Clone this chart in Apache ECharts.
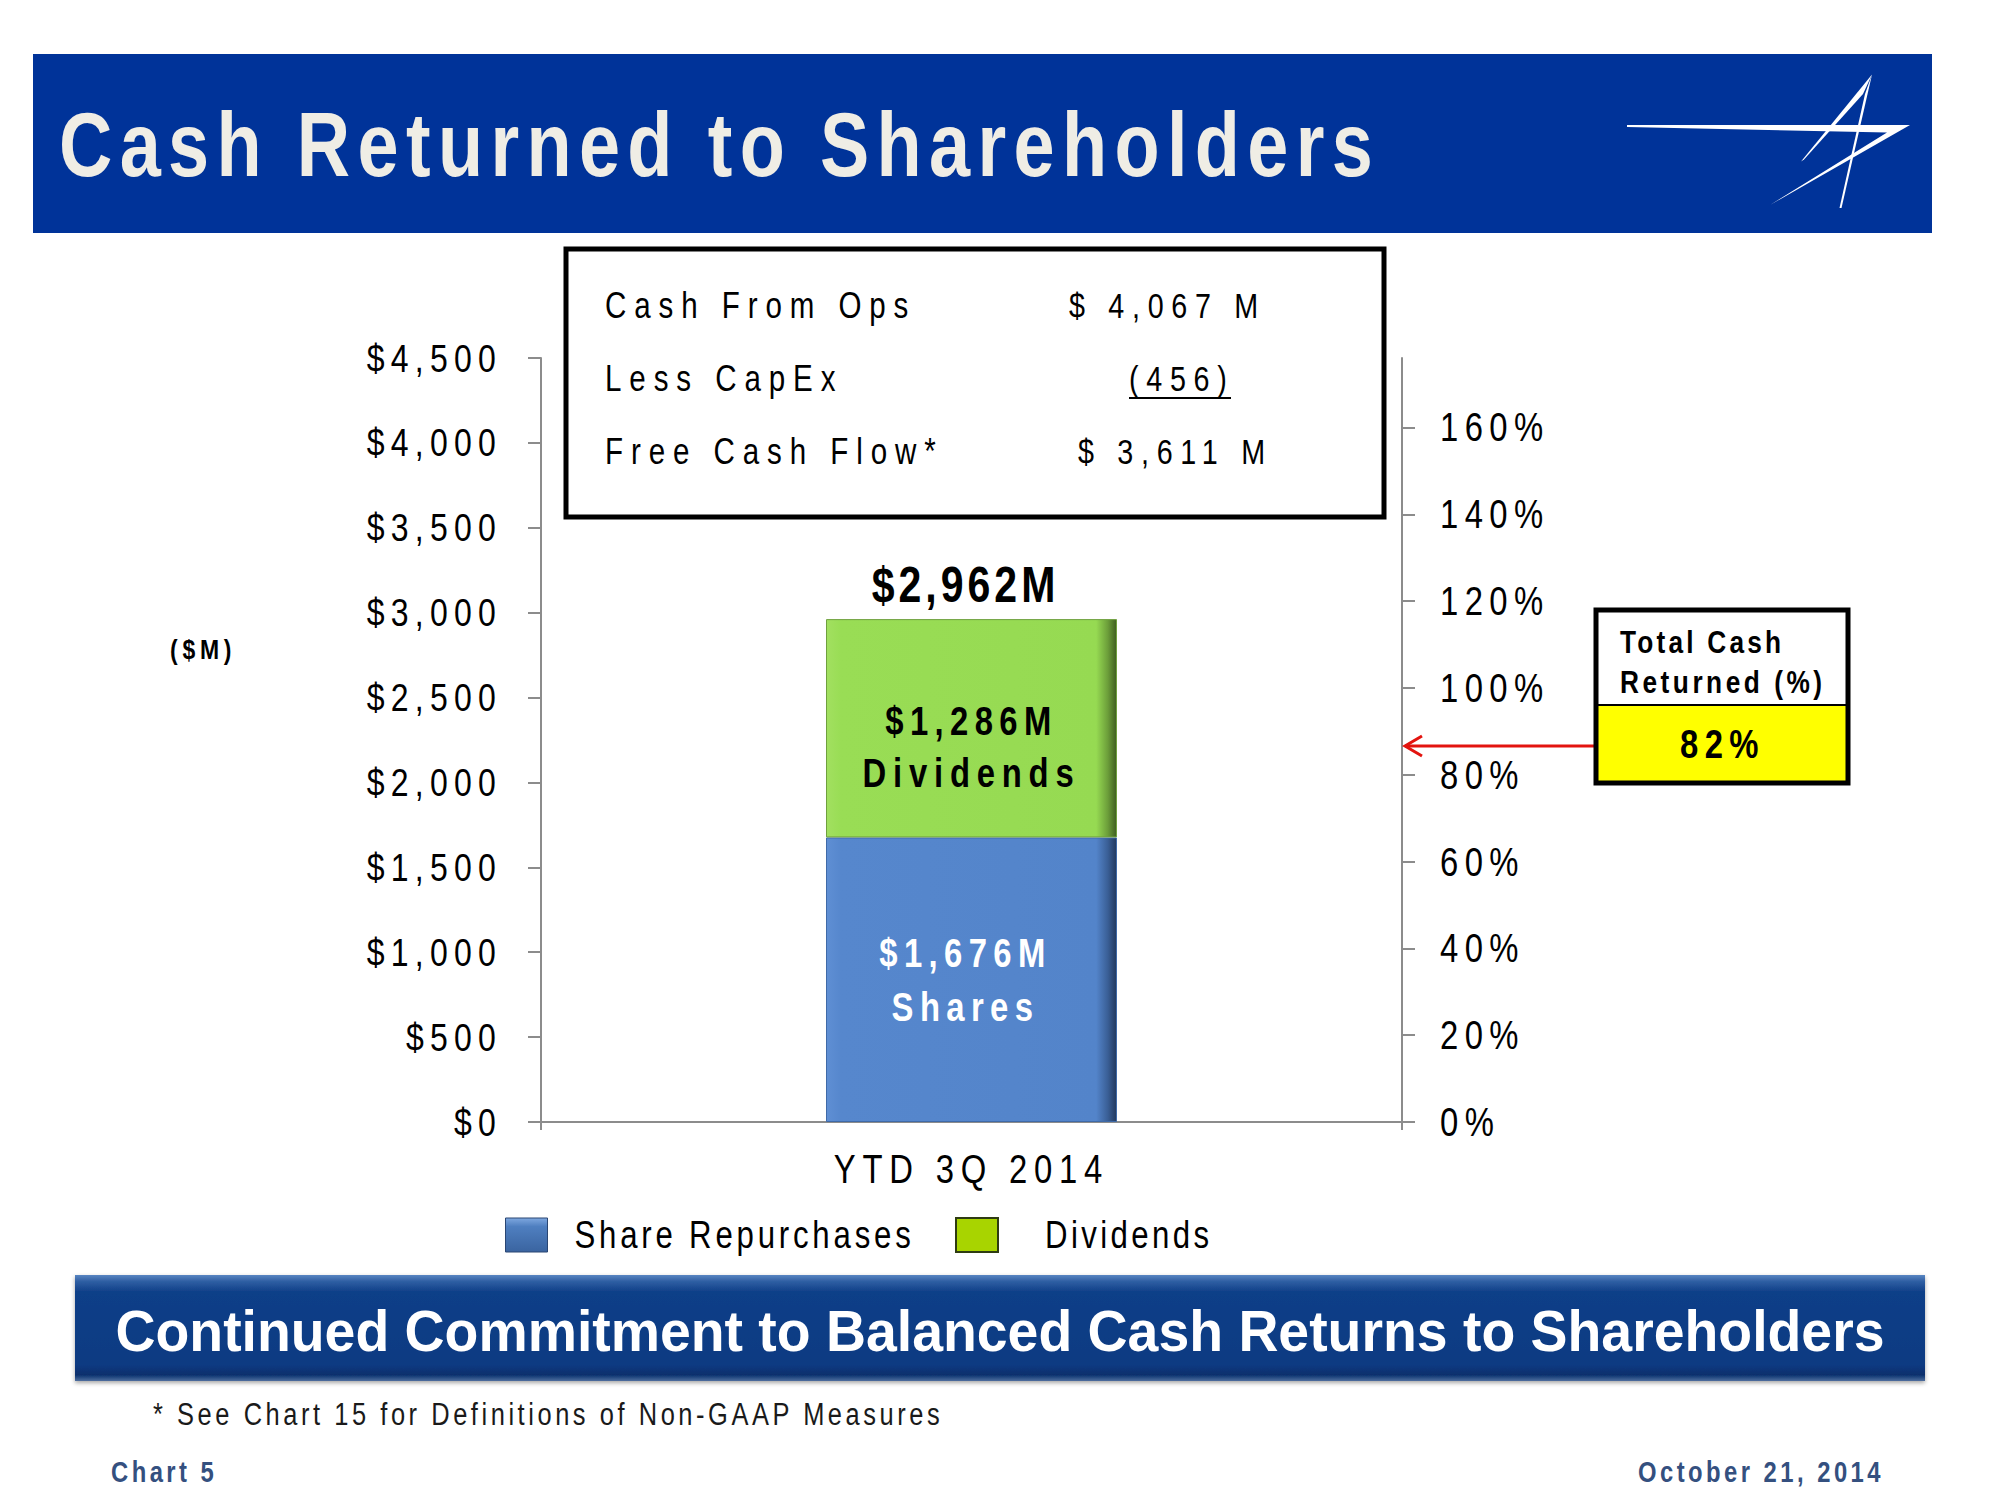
<!DOCTYPE html>
<html>
<head>
<meta charset="utf-8">
<script src="https://cdn.jsdelivr.net/npm/echarts@6/dist/echarts.min.js"></script>
<style>
html,body{margin:0;padding:0;background:#fff;}
#chart{width:2000px;height:1500px;}
</style>
</head>
<body>
<div id="chart"></div>
<script>
// ---------- data ----------
const categories = ['YTD 3Q 2014'];
const seriesNames = ['Share Repurchases', 'Dividends'];
const shareRepurchases = [1676];
const dividends = [1286];
const totals = [2962];
const barCaptions = ['Shares', 'Dividends'];
const leftTickMax = 4500;
const leftTickStep = 500;
const rightTickValues = [0, 20, 40, 60, 80, 100, 120, 140, 160];
const rightAxisMax = 176;
const cashFlowLabels = ['Cash From Ops', 'Less CapEx', 'Free Cash Flow*'];
const cashFlowValues = ['$ 4,067 M', '(456)', '$ 3,611 M'];
const totalCashReturnedPct = [82];
const titleText = 'Cash Returned to Shareholders';
const bannerText = 'Continued Commitment to Balanced Cash Returns to Shareholders';
const footnoteText = '* See Chart 15 for Definitions of Non-GAAP Measures';
const footerLeft = 'Chart 5';
const footerRight = 'October 21, 2014';
const unitLabel = '($M)';

// ---------- styling ----------
const FF = '"Liberation Sans", Arial, sans-serif';
const fmt = v => v.toLocaleString('en-US');
const blueGrad = {type:'linear',x:0,y:0,x2:1,y2:0,colorStops:[
  {offset:0,color:'#5F8FD4'},{offset:0.05,color:'#5687CD'},{offset:0.93,color:'#5384CA'},{offset:0.97,color:'#3A5F96'},{offset:1,color:'#22395E'}]};
const greenGrad = {type:'linear',x:0,y:0,x2:1,y2:0,colorStops:[
  {offset:0,color:'#A2E060'},{offset:0.05,color:'#99DD55'},{offset:0.93,color:'#96DA52'},{offset:0.97,color:'#6C9E3A'},{offset:1,color:'#3F5E20'}]};
const axisGray = '#8C8C8C';

const chart = echarts.init(document.getElementById('chart'), null, {renderer:'svg', width:2000, height:1500});

const graphics = [
  // header band
  {type:'rect', shape:{x:33,y:54,width:1899,height:179}, style:{fill:'#003399'}, z:1},
  {type:'text', x:59, y:145, style:{text:titleText, fill:'#EFEDE5', fontSize:90, fontWeight:'bold', fontFamily:FF, textAlign:'left', textVerticalAlign:'middle'}, z:2},
  // logo
  {type:'polygon', shape:{points:[[1627,125],[1910,125],[1770,205],[1887,132.5],[1627,127]]}, style:{fill:'#FFFFFF'}, z:2},
  {type:'polygon', shape:{points:[[1872,74.5],[1801,161.5],[1804,159.5],[1863,94]]}, style:{fill:'#FFFFFF'}, z:2},
  {type:'polygon', shape:{points:[[1872,74.5],[1841.5,208],[1839.5,208],[1865,94]]}, style:{fill:'#FFFFFF'}, z:2},
  // info box
  {type:'rect', shape:{x:566,y:249,width:818,height:268}, style:{fill:'#fff', stroke:'#000', lineWidth:5}, z:5},
  {type:'text', x:605, y:305, style:{text:cashFlowLabels[0], fontSize:36, fontFamily:FF, fill:'#000', textVerticalAlign:'middle'}, z:6},
  {type:'text', x:605, y:378, style:{text:cashFlowLabels[1], fontSize:36, fontFamily:FF, fill:'#000', textVerticalAlign:'middle'}, z:6},
  {type:'text', x:605, y:451, style:{text:cashFlowLabels[2], fontSize:36, fontFamily:FF, fill:'#000', textVerticalAlign:'middle'}, z:6},
  {type:'text', x:1069, y:305, style:{text:cashFlowValues[0], fontSize:35, fontFamily:FF, fill:'#000', textVerticalAlign:'middle'}, z:6},
  {type:'text', x:1129, y:378, style:{text:cashFlowValues[1], fontSize:35, fontFamily:FF, fill:'#000', textVerticalAlign:'middle'}, z:6},
  {type:'line', shape:{x1:1129,y1:398,x2:1231,y2:398}, style:{stroke:'#000', lineWidth:2}, z:6},
  {type:'text', x:1078, y:451, style:{text:cashFlowValues[2], fontSize:35, fontFamily:FF, fill:'#000', textVerticalAlign:'middle'}, z:6},
  // unit label
  {type:'text', x:170, y:649, style:{text:unitLabel, fontSize:28, fontWeight:'bold', fontFamily:FF, fill:'#000', textVerticalAlign:'middle'}, z:6},
  // total cash returned box
  {type:'rect', shape:{x:1596,y:705,width:252,height:78}, style:{fill:'#FFFF00'}, z:5},
  {type:'line', shape:{x1:1596,y1:705,x2:1848,y2:705}, style:{stroke:'#000', lineWidth:2}, z:6},
  {type:'rect', shape:{x:1596,y:610,width:252,height:173}, style:{fill:'none', stroke:'#000', lineWidth:5}, z:7},
  {type:'text', x:1620, y:642, style:{text:'Total Cash', fontSize:32, fontWeight:'bold', fontFamily:FF, fill:'#000', textVerticalAlign:'middle'}, z:6},
  {type:'text', x:1620, y:682, style:{text:'Returned (%)', fontSize:32, fontWeight:'bold', fontFamily:FF, fill:'#000', textVerticalAlign:'middle'}, z:6},
  {type:'text', x:1680, y:744, style:{text:totalCashReturnedPct[0] + '%', fontSize:40, fontWeight:'bold', fontFamily:FF, fill:'#000', textVerticalAlign:'middle'}, z:6},
  // red arrow
  {type:'line', shape:{x1:1596,y1:746,x2:1405,y2:746}, style:{stroke:'#E3140F', lineWidth:3}, z:6},
  {type:'polyline', shape:{points:[[1422,736],[1405,746],[1422,756]]}, style:{stroke:'#E3140F', lineWidth:3, fill:'none'}, z:6},
  // bottom banner
  {type:'rect', shape:{x:75,y:1275,width:1850,height:106},
   style:{fill:{type:'linear',x:0,y:0,x2:0,y2:1,colorStops:[
     {offset:0,color:'#5A86C2'},{offset:0.06,color:'#2F5FA3'},{offset:0.16,color:'#0F3F88'},{offset:0.85,color:'#0B3A82'},{offset:0.94,color:'#082F6C'},{offset:1,color:'#4E6E9E'}]},
     shadowColor:'rgba(0,0,0,0.35)', shadowBlur:4, shadowOffsetY:2}, z:1},
  {type:'text', x:1000, y:1330, style:{text:bannerText, fontSize:58, fontWeight:'bold', fontFamily:FF, fill:'#FFFFFF', textAlign:'center', textVerticalAlign:'middle'}, z:2},
  // footnote & footer
  {type:'text', x:153, y:1414, style:{text:footnoteText, fontSize:31, fontFamily:FF, fill:'#1A1A1A', textVerticalAlign:'middle'}, z:2},
  {type:'text', x:111, y:1472, style:{text:footerLeft, fontSize:29, fontWeight:'bold', fontFamily:FF, fill:'#34507F', textVerticalAlign:'middle'}, z:2},
  {type:'text', x:1638, y:1472, style:{text:footerRight, fontSize:29, fontWeight:'bold', fontFamily:FF, fill:'#34507F', textVerticalAlign:'middle'}, z:2}
];

const option = {
  backgroundColor:'#FFFFFF',
  animation:false,
  grid:{left:541, right:598, top:358, bottom:378, containLabel:false},
  legend:[
    {left:505, top:1216, padding:0, itemWidth:42, itemHeight:34, icon:'rect',
     data:[{name:seriesNames[0], itemStyle:{color:{type:'linear',x:0,y:0,x2:0,y2:1,colorStops:[{offset:0,color:'#7FA8E0'},{offset:0.25,color:'#4F7FC0'},{offset:1,color:'#3A64A0'}]}, borderColor:'#2A4673', borderWidth:1}}],
     textStyle:{fontSize:38, fontFamily:FF, color:'#000', padding:[0,0,0,22]}},
    {left:955, top:1216, padding:0, itemWidth:42, itemHeight:34, icon:'rect',
     data:[{name:seriesNames[1], itemStyle:{color:'#A8D400', borderColor:'#2E3B12', borderWidth:2}}],
     textStyle:{fontSize:38, fontFamily:FF, color:'#000', padding:[0,0,0,42]}}
  ],
  xAxis:{type:'category', data:categories,
    axisLine:{lineStyle:{color:axisGray, width:2}},
    axisTick:{show:true, length:8, lineStyle:{color:axisGray, width:2}},
    axisLabel:{fontSize:40, fontFamily:FF, color:'#000', margin:27}},
  yAxis:[
    {type:'value', position:'left', min:0, max:leftTickMax, interval:leftTickStep,
     axisLine:{show:true, lineStyle:{color:axisGray, width:2}},
     axisTick:{show:true, length:13, lineStyle:{color:axisGray, width:2}},
     splitLine:{show:false},
     axisLabel:{fontSize:39, fontFamily:FF, color:'#000', margin:39, formatter:v => '$' + fmt(v)}},
    {type:'value', position:'right', min:0, max:rightAxisMax,
     axisLine:{show:true, lineStyle:{color:axisGray, width:2}},
     axisTick:{show:true, length:13, customValues:rightTickValues, lineStyle:{color:axisGray, width:2}},
     splitLine:{show:false},
     axisLabel:{fontSize:40, fontFamily:FF, color:'#000', margin:38, customValues:rightTickValues, formatter:v => v + '%'}}
  ],
  series:[
    {type:'bar', name:seriesNames[0], stack:'total', data:shareRepurchases, barWidth:291,
     itemStyle:{color:blueGrad, borderColor:'#3F6AA8', borderWidth:1},
     label:{show:true, position:'inside', offset:[-6,0], color:'#FFFFFF', fontSize:40, fontWeight:'bold', fontFamily:FF, lineHeight:54,
       formatter:p => '$' + fmt(p.value) + 'M\n' + barCaptions[0]}},
    {type:'bar', name:seriesNames[1], stack:'total', data:dividends, barWidth:291,
     itemStyle:{color:greenGrad, borderColor:'#6FA03E', borderWidth:1},
     label:{show:true, position:'inside', offset:[0,19], color:'#000000', fontSize:40, fontWeight:'bold', fontFamily:FF, lineHeight:52,
       formatter:p => '$' + fmt(p.value) + 'M\n' + barCaptions[1]}},
    {type:'scatter', name:'Total', data:totals, symbolSize:0, itemStyle:{color:'#000000', opacity:1}, silent:true, z:10,
     label:{show:true, position:'top', distance:9, offset:[-6,0], color:'#000000', fontSize:50, fontWeight:'bold', fontFamily:FF,
       formatter:p => '$' + fmt(p.value) + 'M'}}
  ],
  graphic:{elements:graphics}
};
chart.setOption(option);

// Emulate the slide's tracked Arial Narrow: compress glyphs to 82% width and add tracking.
const NARROW = 0.82;
const spacingMap = {};
spacingMap[titleText] = 0.082;
cashFlowLabels.concat(cashFlowValues).forEach(t => spacingMap[t] = 0.22);
spacingMap['$' + fmt(totals[0]) + 'M'] = 0.08;
spacingMap['Total Cash'] = 0.1;
spacingMap['Returned (%)'] = 0.11;
spacingMap[seriesNames[0]] = 0.1;
spacingMap[footnoteText] = 0.115;
spacingMap[footerLeft] = 0.12;
spacingMap[footerRight] = 0.12;
spacingMap[unitLabel] = 0.17;
spacingMap[categories[0]] = 0.17;
const bannerWidth = 1769;
function applySpacing(){
  document.querySelectorAll('#chart svg text').forEach(el => {
    const t = (el.textContent || '').trim();
    if (!t) return;
    el.removeAttribute('textLength');
    el.removeAttribute('lengthAdjust');
    if (t === bannerText) {
      el.style.letterSpacing = '0';
      el.setAttribute('textLength', bannerWidth);
      el.setAttribute('lengthAdjust', 'spacingAndGlyphs');
      return;
    }
    const fs = parseFloat(getComputedStyle(el).fontSize) || 38;
    let s = (t in spacingMap) ? spacingMap[t] : 0.16;
    if (t === 'Dividends') s = fs >= 40 ? 0.17 : 0.09;
    el.style.letterSpacing = (s / NARROW).toFixed(4) + 'em';
    let L = 0;
    try { L = el.getComputedTextLength(); } catch (e) { L = 0; }
    if (L > 0) {
      el.setAttribute('textLength', (L * NARROW).toFixed(2));
      el.setAttribute('lengthAdjust', 'spacingAndGlyphs');
    }
  });
}
chart.on('finished', applySpacing);
applySpacing();
setTimeout(applySpacing, 50);
</script>
</body>
</html>
